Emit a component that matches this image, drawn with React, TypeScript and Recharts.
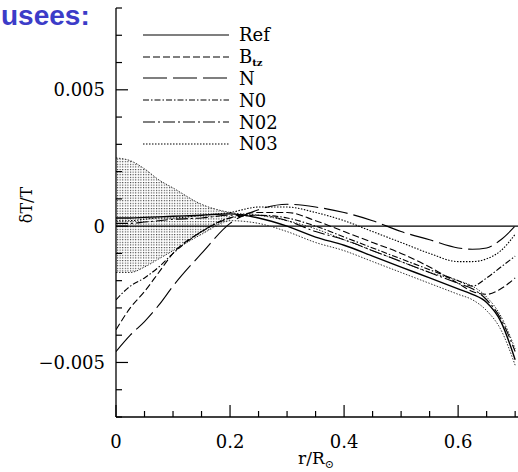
import { ComposedChart, Line, Area, XAxis, YAxis, ReferenceLine } from 'recharts';

// radius r/Rsun
const R = [0, 0.025, 0.05, 0.075, 0.1, 0.15, 0.2, 0.25, 0.3, 0.35, 0.4, 0.45, 0.5, 0.55, 0.6, 0.625, 0.65, 0.675, 0.7];

// dT/T for each model
const REF = [0.0003, 0.0003, 0.00032, 0.00034, 0.00036, 0.0004, 0.00045, 0.0003, 0.0, -0.0004, -0.0007, -0.0011, -0.0015, -0.0019, -0.0023, -0.0025, -0.0028, -0.0035, -0.0049];
const BTZ = [-0.0038, -0.003, -0.0024, -0.0017, -0.001, -0.0002, 0.0003, 0.0005, 0.0005, 0.0002, -0.0002, -0.0006, -0.001, -0.0015, -0.0021, -0.0024, -0.0025, -0.0023, -0.0019];
const N = [-0.0046, -0.004, -0.0035, -0.0029, -0.0022, -0.001, 0.0001, 0.0006, 0.0008, 0.0007, 0.0005, 0.0002, -0.0002, -0.0005, -0.0008, -0.00085, -0.0008, -0.0005, 0.0];
const N0 = [-0.0027, -0.0022, -0.0019, -0.0015, -0.001, -0.0002, 0.0003, 0.0004, 0.0003, 0.0, -0.0004, -0.0008, -0.0012, -0.0016, -0.002, -0.0022, -0.0019, -0.0015, -0.0011];
const N02 = [0.0001, 0.0001, 0.00015, 0.0002, 0.00025, 0.0003, 0.0004, 0.0004, 0.0002, -0.0002, -0.0005, -0.0009, -0.0013, -0.0017, -0.0021, -0.0023, -0.0027, -0.0034, -0.0046];
const N03 = [0.0002, 0.0002, 0.00025, 0.0003, 0.0003, 0.0004, 0.0005, 0.0007, 0.0007, 0.0005, 0.0002, -0.0002, -0.0006, -0.001, -0.0013, -0.0013, -0.0012, -0.0009, -0.0003];

// envelope of the model family (shaded near the centre)
const ENV_HIGH = [0.0025, 0.0024, 0.0021, 0.0017, 0.0014, 0.0008, 0.0005, 0.0004, 0.0002, -0.0001, -0.0005, -0.0009, -0.0013, -0.0017, -0.002, -0.0022, -0.0026, -0.0033, -0.0045];
const ENV_LOW = [-0.0017, -0.0017, -0.0015, -0.0012, -0.0009, -0.0003, 0.0002, 0.0001, -0.0002, -0.0006, -0.0009, -0.0013, -0.0017, -0.0021, -0.0025, -0.0027, -0.0031, -0.0038, -0.0051];
const BAND_END = 0.2;

const X_TICKS = [0, 0.05, 0.1, 0.15, 0.2, 0.25, 0.3, 0.35, 0.4, 0.45, 0.5, 0.55, 0.6, 0.65, 0.7];
const Y_TICKS = [-0.007, -0.006, -0.005, -0.004, -0.003, -0.002, -0.001, 0, 0.001, 0.002, 0.003, 0.004, 0.005, 0.006, 0.007, 0.008];

const SERIES = [
  { key: 'ref', label: 'Ref', dash: undefined },
  { key: 'btz', label: 'B', sub: 'tz', dash: '7 3' },
  { key: 'n', label: 'N', dash: '24 6' },
  { key: 'n0', label: 'N0', dash: '6 2 1.5 2' },
  { key: 'n02', label: 'N02', dash: '12 3 2 3' },
  { key: 'n03', label: 'N03', dash: '1.5 1.5' },
];

const data = R.map((r, i) => ({
  r,
  ref: REF[i],
  btz: BTZ[i],
  n: N[i],
  n0: N0[i],
  n02: N02[i],
  n03: N03[i],
  hi: ENV_HIGH[i],
  lo: ENV_LOW[i],
  band: r <= BAND_END ? [ENV_LOW[i], ENV_HIGH[i]] : undefined,
}));

const LEFT = 116;
const RIGHT = 518;
const TOP = 8;
const BOTTOM = 417;
const FONT = '"DejaVu Serif", serif';

const fmtX = (v: number) => (v === 0 ? '0' : String(Number(v.toFixed(1))));
const fmtY = (v: number) => (v === 0 ? '0' : (v < 0 ? '\u2212' : '') + Math.abs(v).toFixed(3));

const isMajorX = (v: number) => Math.round(v * 100) % 20 === 0;
const isMajorY = (v: number) => Math.round(v * 1000) % 5 === 0;

const BottomTick = ({ x, payload }: any) => {
  const major = isMajorX(payload.value);
  return (
    <g>
      <line x1={x} x2={x} y1={BOTTOM} y2={BOTTOM - (major ? 12 : 6)} stroke="#000" strokeWidth={1.2} />
      {major && (
        <text x={x} y={BOTTOM + 31} textAnchor="middle" fontFamily={FONT} fontSize={18} fill="#000">
          {fmtX(payload.value)}
        </text>
      )}
    </g>
  );
};

const TopTick = ({ x, payload }: any) => {
  const major = isMajorX(payload.value);
  return <line x1={x} x2={x} y1={TOP} y2={TOP + (major ? 12 : 6)} stroke="#000" strokeWidth={1.2} />;
};

const LeftTick = ({ y, payload }: any) => {
  const major = isMajorY(payload.value);
  return (
    <g>
      <line x1={LEFT} x2={LEFT + (major ? 12 : 6)} y1={y} y2={y} stroke="#000" strokeWidth={1.2} />
      {major && (
        <text x={LEFT - 11} y={y} dy="0.36em" textAnchor="end" fontFamily={FONT} fontSize={18} fill="#000">
          {fmtY(payload.value)}
        </text>
      )}
    </g>
  );
};

const RightTick = ({ y, payload }: any) => {
  const major = isMajorY(payload.value);
  return <line x1={RIGHT} x2={RIGHT - (major ? 12 : 6)} y1={y} y2={y} stroke="#000" strokeWidth={1.2} />;
};

function LegendBox() {
  return (
    <div style={{ position: 'absolute', left: 143, top: 24, fontFamily: FONT, fontSize: 18 }}>
      {SERIES.map((s) => (
        <div key={s.key} style={{ display: 'flex', alignItems: 'center', height: 21.8 }}>
          <svg width={86} height={6} style={{ marginRight: 10 }}>
            <line x1={0} x2={86} y1={3} y2={3} stroke="#000" strokeWidth={1.1} strokeDasharray={s.dash} />
          </svg>
          <span>
            {s.label}
            {s.sub && <sub style={{ fontSize: 10, fontWeight: 'bold', verticalAlign: -3 }}>{s.sub}</sub>}
          </span>
        </div>
      ))}
    </div>
  );
}

export default function App() {
  return (
    <div style={{ position: 'absolute', left: 0, top: 0, width: 518, height: 472, overflow: 'hidden', background: '#fff' }}>
      <ComposedChart width={520} height={472} data={data} margin={{ top: TOP, right: 520 - RIGHT, bottom: 0, left: 0 }}>
        <defs>
          <pattern id="dots" width="2.6" height="2.6" patternUnits="userSpaceOnUse">
            <rect width="1.1" height="1.1" fill="#333" />
          </pattern>
        </defs>
        <XAxis
          dataKey="r"
          type="number"
          domain={[0, 0.705]}
          ticks={X_TICKS}
          allowDataOverflow
          height={472 - BOTTOM}
          axisLine={{ stroke: '#000', strokeWidth: 1.3 }}
          tickLine={false}
          tick={<BottomTick />}
          interval={0}
        />
        <XAxis
          xAxisId="top"
          dataKey="r"
          type="number"
          orientation="top"
          domain={[0, 0.705]}
          ticks={X_TICKS}
          allowDataOverflow
          height={0}
          axisLine={{ stroke: '#000', strokeWidth: 1.3 }}
          tickLine={false}
          tick={<TopTick />}
          interval={0}
        />
        <YAxis
          type="number"
          domain={[-0.007, 0.008]}
          ticks={Y_TICKS}
          allowDataOverflow
          width={LEFT}
          axisLine={{ stroke: '#000', strokeWidth: 1.3 }}
          tickLine={false}
          tick={<LeftTick />}
          interval={0}
        />
        <YAxis
          yAxisId="right"
          orientation="right"
          type="number"
          domain={[-0.007, 0.008]}
          ticks={Y_TICKS}
          allowDataOverflow
          width={0}
          axisLine={{ stroke: '#000', strokeWidth: 1.3 }}
          tickLine={false}
          tick={<RightTick />}
          interval={0}
        />
        <Area
          dataKey={(d: any) => d.band}
          type="monotone"
          stroke="none"
          fill="url(#dots)"
          fillOpacity={1}
          isAnimationActive={false}
          connectNulls={false}
        />
        <ReferenceLine y={0} stroke="#000" strokeWidth={1.2} />
        <Line dataKey="hi" type="monotone" stroke="#333" strokeWidth={1} strokeDasharray="1.5 1.5" dot={false} isAnimationActive={false} />
        <Line dataKey="lo" type="monotone" stroke="#333" strokeWidth={1} strokeDasharray="1.5 1.5" dot={false} isAnimationActive={false} />
        {SERIES.map((s) => (
          <Line
            key={s.key}
            dataKey={s.key}
            type="monotone"
            stroke="#000"
            strokeWidth={s.key === 'ref' ? 1.4 : 1.1}
            strokeDasharray={s.dash}
            dot={false}
            isAnimationActive={false}
          />
        ))}
      </ComposedChart>
      <LegendBox />
      <div style={{ position: 'absolute', left: 1, top: 0, fontFamily: '"Liberation Sans", Arial, sans-serif', fontWeight: 'bold', fontSize: 28, lineHeight: '32px', color: '#3c3cc8', whiteSpace: 'nowrap' }}>
        usees:
      </div>
      <div style={{ position: 'absolute', left: 26, top: 205, transform: 'translate(-50%, -50%) rotate(-90deg)', fontFamily: FONT, fontSize: 16, whiteSpace: 'nowrap' }}>
        δT/T
      </div>
      <div style={{ position: 'absolute', left: 316, top: 448, transform: 'translateX(-50%)', fontFamily: FONT, fontSize: 17, whiteSpace: 'nowrap' }}>
        r/R<sub style={{ fontSize: 11, verticalAlign: -4 }}>⊙</sub>
      </div>
    </div>
  );
}
